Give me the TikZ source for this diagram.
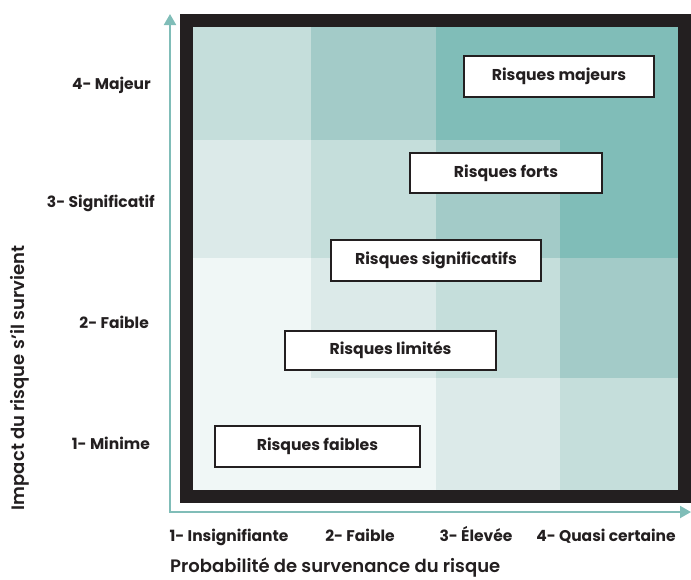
\documentclass[tikz,border=0pt]{standalone}
\usepackage{fontspec}
\setmainfont{Poppins}
\newfontfamily\titlefont{Poppins SemiBold}
\usetikzlibrary{arrows.meta}
\definecolor{ink}{HTML}{231F20}
\definecolor{lvA}{HTML}{F0F7F6}
\definecolor{lvB}{HTML}{DCEAE9}
\definecolor{lvC}{HTML}{C5DEDB}
\definecolor{lvD}{HTML}{A3CBC8}
\definecolor{lvE}{HTML}{80BDB8}
\begin{document}
\begin{tikzpicture}[x=1pt,y=-1pt,
  riskbox/.style={draw=ink,line width=2pt,fill=white,minimum height=41pt,inner sep=0pt,
    font=\bfseries\fontsize{15.7}{18}\selectfont,text=ink},
  ticklabel/.style={font=\bfseries\fontsize{15.5}{18}\selectfont,text=ink,inner sep=0pt},
  axistitle/.style={font=\titlefont\fontsize{18}{21}\selectfont,text=ink,inner sep=0pt},
  axisline/.style={draw=lvE,line width=2pt,{Triangle[length=11pt,width=12pt]}-{Triangle[length=11pt,width=12pt]}}]
\useasboundingbox (0,0) rectangle (691,579);
% row 4 (top)
\fill[lvC] (193,27) rectangle (311,140);
\fill[lvD] (311,27) rectangle (436,140);
\fill[lvE] (436,27) rectangle (678,140);
% row 3
\fill[lvB] (193,140) rectangle (311,258);
\fill[lvC] (311,140) rectangle (436,258);
\fill[lvD] (436,140) rectangle (560,258);
\fill[lvE] (560,140) rectangle (678,258);
% row 2
\fill[lvA] (193,258) rectangle (311,378);
\fill[lvB] (311,258) rectangle (436,378);
\fill[lvC] (436,258) rectangle (560,378);
\fill[lvD] (560,258) rectangle (678,378);
% row 1
\fill[lvA] (193,378) rectangle (436,490);
\fill[lvB] (436,378) rectangle (560,490);
\fill[lvC] (560,378) rectangle (678,490);
% frame
\node[draw=ink,line width=13pt,minimum width=498pt,minimum height=476pt,inner sep=0pt] (frame) at (435.5,258.5) {};
% axes
\coordinate (O) at (170,512);
\coordinate (ytip) at (170,14);
\coordinate (xtip) at (691,512);
\draw[axisline] (ytip) -- (O) -- (xtip);
% risk boxes
\node[riskbox,minimum width=190pt,minimum height=41pt] (majeurs) at (559,76.5) {Risques majeurs};
\node[riskbox,minimum width=192pt,minimum height=40pt] (forts) at (506,173) {Risques forts};
\node[riskbox,minimum width=210pt,minimum height=41pt] (signif) at (436,260.5) {Risques significatifs};
\node[riskbox,minimum width=211pt,minimum height=39pt] (limites) at (390.5,350.5) {Risques limités};
\node[riskbox,minimum width=205pt,minimum height=41pt] (faibles) at (317.5,446.5) {Risques faibles};
% y tick labels
\node[ticklabel,anchor=base east] (y4) at (151,89) {4- Majeur};
\node[ticklabel,anchor=base east] (y3) at (155,207) {3- Significatif};
\node[ticklabel,anchor=base east] (y2) at (149,328) {2- Faible};
\node[ticklabel,anchor=base east] (y1) at (150,449) {1- Minime};
% x tick labels
\node[ticklabel,anchor=base] (x1) at (229,541) {1- Insignifiante};
\node[ticklabel,anchor=base] (x2) at (360,541) {2- Faible};
\node[ticklabel,anchor=base] (x3) at (476,541) {3- Élevée};
\node[ticklabel,anchor=base] (x4) at (606,541) {4- Quasi certaine};
% axis titles
\node[axistitle,anchor=base west] (xtitle) at (170,572) {Probabilité de survenance du risque};
\node[axistitle,anchor=base,rotate=90] (ytitle) at (24,378) {Impact du risque s’il survient};
\end{tikzpicture}
\end{document}
